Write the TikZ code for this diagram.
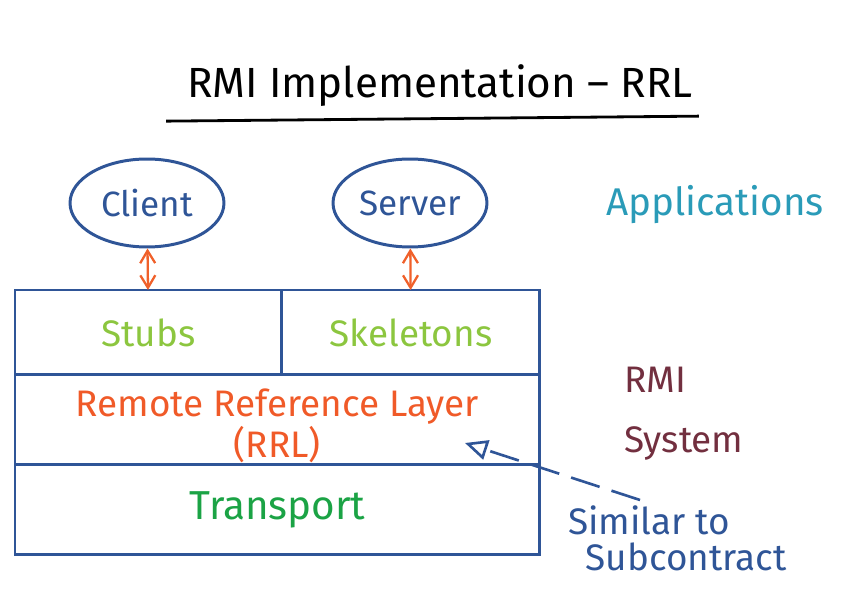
\documentclass[tikz,border=0pt]{standalone}
\usepackage{fontspec}
\setmainfont{Fira Sans}
\usetikzlibrary{shapes.geometric, arrows.meta, positioning, calc}
\definecolor{ink}{HTML}{2F5597}
\definecolor{arrowOrange}{HTML}{F0602A}
\definecolor{stubGreen}{HTML}{8CC63F}
\definecolor{rrlOrange}{HTML}{F05A28}
\definecolor{transGreen}{HTML}{1BA345}
\definecolor{appTeal}{HTML}{2A9BB8}
\definecolor{sysMaroon}{HTML}{722F3F}
\tikzset{
  endpoint/.style = {ellipse, draw=ink, line width=1.7pt, minimum width=3.08cm,
    minimum height=1.76cm, inner sep=0pt, text=ink, font=\fontsize{20}{24}\selectfont},
  layer/.style = {rectangle, draw=ink, line width=1.7pt, inner sep=0pt, outer sep=0pt,
    align=center, font=\fontsize{21}{24}\selectfont},
  sideLabel/.style = {align=left, font=\fontsize{21}{30}\selectfont},
  link/.style = {{Straight Barb[length=2.5mm, width=3mm]}-{Straight Barb[length=2.5mm, width=3mm]},
    line width=1.3pt, draw=arrowOrange},
  hint/.style = {-{Triangle[open, length=4.5mm, width=4mm]}, line width=1.5pt,
    draw=ink, dash pattern=on 6mm off 2.5mm},
}
\begin{document}
\begin{tikzpicture}[x=0.02cm, y=-0.02cm, node distance=0pt]
\useasboundingbox (0,0) rectangle (852,604);
\node[font=\fontsize{24}{28}\selectfont] (title) at (440,86) {RMI Implementation -- RRL};
\draw[line width=1.6pt] ($(title.south west)+(-15,8)$) -- ($(title.south east)+(0,3)$);

\node[endpoint] (client) at (147,203) {Client};
\node[endpoint] (server) at (410,203) {Server};

\node[layer, minimum width=5.34cm, minimum height=1.7cm, anchor=north west,
  text=stubGreen] (stubs) at (15,290) {Stubs};
\node[layer, minimum width=5.16cm, minimum height=1.7cm, anchor=north west,
  text=stubGreen] (skel) at (stubs.north east) {Skeletons};
\node[layer, minimum width=10.5cm, minimum height=1.8cm, anchor=north west,
  text=rrlOrange, font=\fontsize{21}{22}\selectfont] (rrl) at (stubs.south west)
  {\rule{0pt}{0.8cm}Remote Reference Layer\\(RRL)};
\node[layer, minimum width=10.5cm, minimum height=1.8cm, anchor=north west,
  text=transGreen, font=\fontsize{23}{26}\selectfont] (transport) at (15,465) {Transport};

\draw[link] (client) -- (stubs);
\draw[link] (server) -- (skel);

\node[sideLabel, text=appTeal, font=\fontsize{22}{26}\selectfont] (apps) at (715,205) {Applications};
\node[sideLabel, text=sysMaroon, anchor=west, font=\fontsize{21}{34}\selectfont] (sys) at (618,414) {RMI\\System};
\node[sideLabel, text=ink, anchor=north west, font=\fontsize{21}{20}\selectfont] (note) at (562,500) {Similar to\\\hspace*{10pt}Subcontract};

\coordinate (rrlTip) at (465,443);
\draw[hint] ($(note.north west)+(78,0)$) -- (rrlTip);
\end{tikzpicture}
\end{document}
